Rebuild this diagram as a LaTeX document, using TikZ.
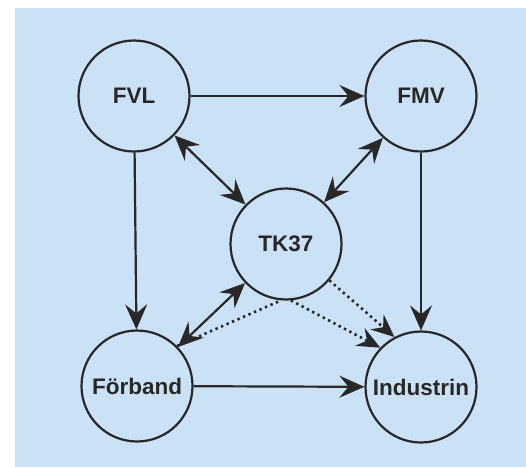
\documentclass[tikz,border=0pt]{standalone}
\usepackage{fontspec}
\setmainfont{Liberation Sans}
\usetikzlibrary{arrows.meta}
\definecolor{bg}{RGB}{203,225,246}
\definecolor{ink}{RGB}{40,40,40}
\begin{document}
\begin{tikzpicture}[x=1pt,y=-1pt,
  party/.style={circle,draw=ink,line width=2.2pt,minimum size=111pt,inner sep=0pt,
    font=\fontsize{22.5}{26}\selectfont\bfseries,text=ink},
  link/.style={draw=ink,line width=2.2pt,-{Stealth[length=25pt,width=22pt,inset=9pt]}},
  twoway/.style={draw=ink,line width=2.2pt,{Stealth[length=25pt,width=22pt,inset=9pt]}-{Stealth[length=25pt,width=22pt,inset=9pt]}},
  dotlink/.style={draw=ink,line width=2.6pt,dash pattern=on 2.4pt off 3.6pt}]
\useasboundingbox (0,0) rectangle (526,467);
\fill[white] (0,0) rectangle (526,467);
\fill[bg] (15,8) rectangle (526,467);
\node[party] (FVL) at (134,96) {FVL};
\node[party] (FMV) at (421,96) {FMV};
\node[party] (TK) at (286,244) {TK37};
\node[party] (FB) at (137,386) {Förband};
\node[party] (IN) at (421,387) {Industrin};
\draw[link] (FVL) -- (FMV);
\draw[link] (FVL) -- (FB);
\draw[link] (FMV) -- (IN);
\draw[link] (FB) -- (IN);
\draw[twoway] (FVL) -- (TK);
\draw[twoway] (FMV) -- (TK);
\draw[twoway] (FB) -- (TK);
\draw[dotlink] (FB.45) -- (TK.265);
\draw[dotlink,-{Stealth[length=23pt,width=20pt,inset=8pt]}] (TK.275) -- (IN.136);
\draw[dotlink,-{Stealth[length=23pt,width=20pt,inset=8pt]}] (TK.320) -- (IN.118);
\end{tikzpicture}
\end{document}
